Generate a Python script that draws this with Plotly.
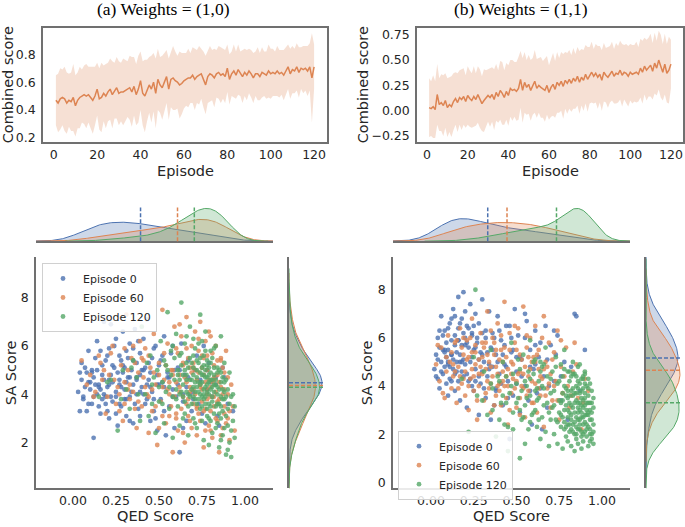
import numpy as np
import plotly.graph_objects as go

W, H = 685, 527


def px(x):
    return x / W


def py(y):
    return 1 - y / H


# ---------------- data: line panels ----------------
EPISODES = list(range(1, 121))

MEAN_A = [0.47, 0.45, 0.48, 0.49, 0.48, 0.45, 0.47, 0.46, 0.49, 0.43,
          0.47, 0.49, 0.50, 0.51, 0.50, 0.51, 0.49, 0.47, 0.50, 0.55,
          0.48, 0.49, 0.52, 0.50, 0.53, 0.55, 0.51, 0.54, 0.56, 0.52,
          0.53, 0.53, 0.54, 0.55, 0.56, 0.53, 0.57, 0.51, 0.55, 0.61,
          0.52, 0.50, 0.54, 0.58, 0.55, 0.60, 0.52, 0.62, 0.58, 0.56,
          0.60, 0.64, 0.55, 0.62, 0.63, 0.61, 0.60, 0.58, 0.59, 0.61,
          0.62, 0.63, 0.63, 0.65, 0.62, 0.64, 0.65, 0.66, 0.62, 0.58,
          0.64, 0.66, 0.65, 0.63, 0.66, 0.67, 0.65, 0.66, 0.64, 0.70,
          0.62, 0.66, 0.68, 0.65, 0.69, 0.66, 0.64, 0.67, 0.65, 0.68,
          0.66, 0.63, 0.66, 0.66, 0.64, 0.67, 0.66, 0.65, 0.68, 0.66,
          0.67, 0.66, 0.68, 0.66, 0.67, 0.65, 0.68, 0.71, 0.66, 0.69,
          0.68, 0.71, 0.67, 0.70, 0.69, 0.70, 0.68, 0.71, 0.63, 0.71]
SD_A = [0.18, 0.21, 0.22, 0.20, 0.23, 0.22, 0.19, 0.21, 0.24, 0.22,
        0.20, 0.22, 0.19, 0.21, 0.23, 0.20, 0.22, 0.24, 0.21, 0.19,
        0.22, 0.25, 0.20, 0.23, 0.21, 0.22, 0.24, 0.20, 0.22, 0.23,
        0.21, 0.24, 0.22, 0.20, 0.23, 0.25, 0.21, 0.22, 0.24, 0.21,
        0.23, 0.26, 0.22, 0.20, 0.24, 0.21, 0.25, 0.22, 0.20, 0.23,
        0.21, 0.19, 0.22, 0.20, 0.23, 0.21, 0.19, 0.24, 0.22, 0.20,
        0.19, 0.21, 0.18, 0.20, 0.22, 0.19, 0.21, 0.18, 0.20, 0.21,
        0.19, 0.20, 0.18, 0.21, 0.17, 0.19, 0.20, 0.18, 0.19, 0.17,
        0.18, 0.16, 0.19, 0.17, 0.18, 0.16, 0.19, 0.17, 0.18, 0.16,
        0.17, 0.18, 0.16, 0.19, 0.17, 0.18, 0.16, 0.17, 0.19, 0.18,
        0.17, 0.16, 0.18, 0.17, 0.16, 0.18, 0.17, 0.16, 0.18, 0.17,
        0.16, 0.17, 0.18, 0.15, 0.17, 0.16, 0.18, 0.17, 0.32, 0.16]

MEAN_B = [0.03, 0.02, 0.04, 0.01, 0.16, 0.06, 0.08, 0.05, 0.10, 0.03,
          0.06, 0.04, 0.09, 0.12, 0.08, 0.13, 0.11, 0.14, 0.09, 0.15,
          0.12, 0.10, 0.14, 0.11, 0.16, 0.12, 0.07, 0.10, 0.12, 0.15,
          0.13, 0.16, 0.11, 0.18, 0.14, 0.20, 0.17, 0.13, 0.19, 0.15,
          0.22, 0.20, 0.21, 0.19, 0.22, 0.31, 0.20, 0.28, 0.23, 0.26,
          0.20, 0.24, 0.29, 0.22, 0.25, 0.23, 0.21, 0.20, 0.25, 0.18,
          0.23, 0.26, 0.21, 0.28, 0.25, 0.29, 0.24, 0.30, 0.27, 0.31,
          0.27, 0.32, 0.29, 0.34, 0.28, 0.33, 0.30, 0.36, 0.31, 0.35,
          0.38, 0.34, 0.37, 0.33, 0.36, 0.30, 0.38, 0.35, 0.33, 0.36,
          0.39, 0.34, 0.37, 0.36, 0.40, 0.35, 0.38, 0.37, 0.34, 0.38,
          0.36, 0.37, 0.38, 0.36, 0.42, 0.38, 0.44, 0.40, 0.43, 0.45,
          0.39, 0.47, 0.42, 0.50, 0.44, 0.38, 0.46, 0.37, 0.40, 0.46]
SD_B = [0.29, 0.27, 0.31, 0.28, 0.30, 0.26, 0.28, 0.30, 0.27, 0.29,
        0.27, 0.30, 0.28, 0.26, 0.29, 0.27, 0.30, 0.28, 0.26, 0.29,
        0.28, 0.27, 0.30, 0.26, 0.28, 0.29, 0.27, 0.31, 0.28, 0.26,
        0.29, 0.27, 0.30, 0.28, 0.26, 0.29, 0.31, 0.27, 0.28, 0.30,
        0.28, 0.30, 0.27, 0.29, 0.31, 0.28, 0.32, 0.30, 0.27, 0.29,
        0.30, 0.28, 0.31, 0.29, 0.27, 0.30, 0.28, 0.31, 0.29, 0.27,
        0.29, 0.31, 0.28, 0.30, 0.27, 0.29, 0.32, 0.28, 0.30, 0.29,
        0.28, 0.30, 0.27, 0.29, 0.31, 0.28, 0.30, 0.29, 0.32, 0.28,
        0.30, 0.27, 0.29, 0.31, 0.28, 0.30, 0.29, 0.27, 0.30, 0.28,
        0.29, 0.27, 0.30, 0.28, 0.29, 0.31, 0.27, 0.29, 0.30, 0.28,
        0.29, 0.28, 0.30, 0.27, 0.29, 0.31, 0.28, 0.30, 0.29, 0.31,
        0.28, 0.30, 0.27, 0.29, 0.31, 0.28, 0.30, 0.29, 0.33, 0.24]

# ---------------- data: scatter panels (QED, SA) ----------------
A_EP0 = [(0.03, 4.1), (0.04, 3.3), (0.05, 4.6), (0.05, 5.3), (0.06, 3.8), (0.07, 4.3), (0.08, 4.9), (0.08, 3.3), (0.09, 5.8), (0.09, 4.5),
         (0.10, 4.2), (0.11, 5.0), (0.11, 3.6), (0.12, 4.7), (0.12, 2.2), (0.13, 5.5), (0.14, 4.0), (0.14, 6.2), (0.15, 4.4), (0.16, 3.2),
         (0.17, 5.2), (0.18, 4.6), (0.18, 7.0), (0.19, 3.9), (0.20, 5.6), (0.20, 4.3), (0.21, 3.0), (0.22, 6.9), (0.22, 4.8), (0.23, 3.7),
         (0.24, 5.1), (0.25, 4.1), (0.25, 6.3), (0.26, 2.7), (0.27, 4.6), (0.28, 5.4), (0.28, 3.5), (0.29, 4.9), (0.29, 6.6), (0.30, 4.2),
         (0.31, 5.8), (0.31, 3.1), (0.32, 4.7), (0.33, 6.1), (0.33, 3.9), (0.34, 5.0), (0.35, 2.8), (0.35, 4.4), (0.36, 6.7), (0.37, 4.0),
         (0.37, 5.3), (0.38, 3.4), (0.39, 4.8), (0.39, 5.7), (0.40, 4.3), (0.41, 6.3), (0.42, 3.6), (0.42, 5.1), (0.43, 7.1), (0.44, 4.6),
         (0.45, 2.9), (0.46, 5.5), (0.46, 4.1), (0.47, 3.3), (0.48, 6.0), (0.49, 4.8), (0.49, 2.5), (0.50, 5.2), (0.51, 3.8), (0.52, 4.5),
         (0.53, 6.4), (0.54, 2.3), (0.55, 4.9), (0.56, 3.5), (0.57, 5.7), (0.58, 4.2), (0.59, 2.6), (0.59, 5.0), (0.61, 4.4), (0.62, 1.6),
         (0.63, 6.1), (0.64, 3.7), (0.65, 4.8), (0.66, 2.9), (0.67, 5.4), (0.68, 4.0), (0.69, 3.3), (0.71, 5.0), (0.73, 3.6), (0.74, 4.5),
         (0.76, 6.0), (0.77, 2.8), (0.78, 4.2), (0.79, 5.3), (0.81, 3.9), (0.83, 4.7), (0.85, 2.7), (0.87, 5.1), (0.90, 3.6), (0.93, 3.3),
         (0.04, 4.9), (0.06, 3.9), (0.07, 5.1), (0.09, 3.6), (0.10, 4.5), (0.11, 4.9), (0.12, 3.9), (0.13, 4.4), (0.14, 5.0), (0.15, 3.5),
         (0.16, 4.2), (0.16, 5.8), (0.17, 3.8), (0.18, 4.0), (0.19, 5.4), (0.20, 3.3), (0.21, 4.6), (0.21, 5.9), (0.22, 3.9), (0.23, 4.5),
         (0.24, 6.0), (0.25, 3.2), (0.26, 4.9), (0.27, 5.6), (0.27, 3.6), (0.28, 4.3), (0.30, 5.1), (0.30, 3.8), (0.31, 4.5), (0.32, 5.5),
         (0.33, 2.9), (0.34, 4.1), (0.35, 5.9), (0.36, 3.6), (0.37, 4.7), (0.38, 6.2), (0.39, 3.1), (0.40, 5.0), (0.41, 4.0), (0.43, 3.8),
         (0.44, 5.3), (0.45, 4.3), (0.47, 5.9), (0.48, 3.0), (0.50, 4.4), (0.52, 5.6), (0.53, 3.3), (0.56, 4.7), (0.58, 6.0), (0.60, 3.9),
         (0.62, 5.0), (0.64, 2.6), (0.66, 4.3), (0.70, 3.8), (0.72, 5.6), (0.75, 3.2), (0.80, 4.5), (0.84, 3.1),
         (0.15, 4.3), (0.17, 4.8), (0.19, 3.6), (0.21, 4.4), (0.23, 5.2), (0.25, 3.9), (0.27, 4.4), (0.29, 5.2), (0.31, 3.8), (0.33, 4.7),
         (0.35, 5.4), (0.37, 4.6), (0.39, 4.1), (0.41, 5.0), (0.43, 4.4), (0.45, 4.9), (0.47, 3.8), (0.49, 4.4), (0.51, 5.4), (0.53, 4.3),
         (0.55, 4.7), (0.58, 3.9), (0.61, 5.1), (0.64, 4.0), (0.67, 4.7), (0.70, 4.1), (0.74, 4.6), (0.78, 5.0), (0.83, 4.4), (0.88, 4.7)]

A_EP60 = [(0.05, 5.4), (0.08, 4.4), (0.12, 3.9), (0.15, 5.6), (0.17, 4.6), (0.19, 3.2), (0.21, 4.8), (0.23, 6.0), (0.25, 3.6), (0.26, 4.3),
          (0.28, 5.2), (0.29, 2.9), (0.30, 4.5), (0.31, 7.3), (0.33, 3.8), (0.34, 5.5), (0.35, 4.1), (0.37, 2.6), (0.38, 4.9), (0.39, 6.2),
          (0.40, 3.5), (0.41, 4.7), (0.42, 5.9), (0.43, 4.0), (0.44, 2.4), (0.45, 5.1), (0.46, 3.3), (0.47, 6.5), (0.48, 4.4), (0.49, 1.9),
          (0.50, 5.3), (0.51, 3.7), (0.52, 7.5), (0.53, 4.6), (0.54, 2.8), (0.55, 6.1), (0.55, 4.2), (0.56, 3.1), (0.57, 5.0), (0.58, 1.6),
          (0.58, 4.8), (0.59, 6.8), (0.59, 3.9), (0.60, 4.5), (0.61, 5.7), (0.61, 2.5), (0.62, 4.1), (0.63, 6.4), (0.63, 3.4), (0.64, 5.2),
          (0.65, 4.7), (0.65, 2.0), (0.66, 7.2), (0.67, 3.8), (0.67, 5.5), (0.68, 4.3), (0.68, 2.9), (0.69, 6.0), (0.69, 4.9), (0.70, 3.6),
          (0.70, 5.3), (0.71, 4.0), (0.71, 6.6), (0.72, 2.3), (0.72, 4.6), (0.73, 5.8), (0.73, 3.2), (0.74, 4.4), (0.74, 7.0), (0.75, 3.7),
          (0.75, 5.1), (0.76, 1.8), (0.76, 4.8), (0.77, 6.2), (0.77, 3.4), (0.78, 4.2), (0.78, 5.6), (0.79, 2.7), (0.79, 4.6), (0.80, 3.9),
          (0.80, 6.4), (0.81, 4.5), (0.81, 2.2), (0.82, 5.2), (0.82, 3.5), (0.83, 4.1), (0.83, 6.0), (0.84, 2.9), (0.84, 4.8), (0.85, 1.6),
          (0.85, 3.8), (0.86, 5.5), (0.86, 4.3), (0.87, 2.6), (0.88, 4.9), (0.88, 3.2), (0.89, 5.8), (0.90, 4.0), (0.91, 2.1), (0.93, 3.5),
          (0.18, 5.0), (0.27, 4.0), (0.32, 5.0), (0.36, 3.4), (0.41, 5.4), (0.44, 3.9), (0.47, 4.9), (0.50, 2.6), (0.52, 4.3), (0.53, 5.7),
          (0.56, 4.5), (0.57, 3.5), (0.60, 5.9), (0.60, 3.2), (0.62, 4.8), (0.62, 6.9), (0.64, 3.9), (0.64, 2.4), (0.66, 4.5), (0.66, 5.9),
          (0.67, 3.1), (0.68, 5.1), (0.69, 2.6), (0.70, 4.2), (0.71, 5.0), (0.72, 3.5), (0.73, 4.9), (0.73, 6.3), (0.74, 2.9), (0.75, 4.2),
          (0.75, 5.6), (0.76, 3.3), (0.77, 4.5), (0.77, 2.5), (0.78, 5.0), (0.78, 3.8), (0.79, 6.6), (0.80, 4.3), (0.80, 2.5), (0.81, 5.7),
          (0.82, 3.9), (0.82, 4.6), (0.83, 3.0), (0.84, 5.4), (0.84, 3.7), (0.85, 4.5), (0.86, 2.3), (0.87, 4.0), (0.87, 5.1), (0.88, 3.5),
          (0.89, 2.8), (0.90, 4.7), (0.91, 3.3), (0.92, 4.4), (0.94, 2.5),
          (0.30, 3.6), (0.33, 4.4), (0.36, 5.3), (0.38, 3.7), (0.40, 5.5), (0.42, 4.3), (0.44, 5.6), (0.46, 4.2), (0.48, 3.5), (0.50, 4.8),
          (0.52, 3.1), (0.54, 5.2), (0.56, 4.0), (0.58, 5.0), (0.60, 3.0), (0.62, 4.3), (0.64, 5.3), (0.66, 3.6), (0.68, 4.1), (0.70, 5.1),
          (0.72, 3.4), (0.74, 4.3), (0.76, 5.5), (0.78, 4.0), (0.80, 3.3), (0.82, 4.7), (0.84, 3.6), (0.86, 5.4), (0.88, 4.2), (0.90, 3.0),
          (0.10, 4.8), (0.13, 4.1), (0.16, 5.3), (0.20, 3.9), (0.22, 5.7), (0.24, 4.6), (0.27, 3.3), (0.30, 5.9), (0.32, 4.2), (0.35, 6.0)]

A_EP120 = [(0.15, 3.9), (0.22, 4.6), (0.26, 2.5), (0.29, 5.0), (0.31, 4.2), (0.33, 3.4), (0.35, 5.4), (0.37, 4.7), (0.39, 2.9), (0.40, 6.8),
           (0.42, 4.0), (0.44, 3.1), (0.45, 5.6), (0.46, 4.4), (0.48, 2.4), (0.49, 5.0), (0.50, 3.7), (0.51, 6.2), (0.52, 4.5), (0.53, 2.8),
           (0.54, 5.2), (0.54, 4.1), (0.55, 7.4), (0.56, 3.4), (0.57, 4.8), (0.57, 5.8), (0.58, 3.9), (0.58, 2.2), (0.59, 4.6), (0.59, 5.5),
           (0.60, 4.2), (0.60, 6.5), (0.61, 3.5), (0.61, 5.0), (0.62, 4.6), (0.62, 2.7), (0.63, 7.8), (0.63, 5.7), (0.64, 3.9), (0.64, 4.4),
           (0.65, 6.1), (0.65, 3.2), (0.66, 5.3), (0.66, 4.8), (0.67, 2.3), (0.67, 4.0), (0.68, 6.8), (0.68, 5.5), (0.69, 3.6), (0.69, 4.6),
           (0.70, 5.1), (0.70, 3.0), (0.70, 6.3), (0.70, 4.3), (0.71, 5.9), (0.71, 3.8), (0.72, 4.7), (0.72, 2.6), (0.73, 5.3), (0.73, 4.1),
           (0.74, 7.3), (0.74, 3.4), (0.74, 4.9), (0.75, 6.2), (0.75, 3.9), (0.75, 4.5), (0.76, 2.1), (0.76, 5.6), (0.76, 4.2), (0.77, 3.6),
           (0.77, 5.0), (0.77, 6.6), (0.78, 4.4), (0.78, 3.1), (0.78, 5.4), (0.79, 4.0), (0.79, 1.9), (0.79, 4.8), (0.80, 5.8), (0.80, 3.5),
           (0.80, 4.6), (0.80, 2.9), (0.81, 4.3), (0.81, 5.5), (0.82, 3.2), (0.82, 4.8), (0.83, 6.0), (0.83, 2.6), (0.84, 4.0), (0.84, 5.1),
           (0.85, 3.6), (0.85, 1.8), (0.86, 4.5), (0.86, 6.4), (0.86, 3.0), (0.87, 4.2), (0.87, 2.3), (0.88, 5.3), (0.88, 3.8), (0.89, 1.5),
           (0.89, 4.6), (0.90, 2.7), (0.90, 3.4), (0.91, 4.9), (0.91, 2.0), (0.92, 3.9), (0.92, 1.4), (0.93, 2.9), (0.94, 3.5), (0.94, 2.2),
           (0.47, 4.7), (0.52, 3.6), (0.55, 5.0), (0.56, 4.3), (0.58, 6.0), (0.60, 3.8), (0.61, 4.8), (0.62, 5.6), (0.63, 4.1), (0.64, 3.0),
           (0.65, 5.0), (0.66, 4.1), (0.66, 6.4), (0.67, 3.5), (0.68, 4.6), (0.69, 5.3), (0.70, 3.9), (0.71, 4.5), (0.71, 2.8), (0.72, 5.4),
           (0.72, 3.6), (0.73, 4.5), (0.73, 6.1), (0.74, 4.0), (0.75, 5.1), (0.75, 2.9), (0.76, 3.8), (0.76, 4.8), (0.77, 4.3), (0.77, 5.8),
           (0.78, 3.4), (0.78, 4.7), (0.79, 5.1), (0.79, 3.0), (0.80, 4.2), (0.80, 5.3), (0.81, 3.7), (0.81, 2.4), (0.82, 4.4), (0.82, 5.9),
           (0.83, 3.5), (0.83, 4.6), (0.84, 2.8), (0.84, 4.3), (0.85, 5.0), (0.85, 3.2), (0.86, 3.9), (0.86, 2.1), (0.87, 4.7), (0.87, 3.3),
           (0.88, 2.6), (0.88, 4.1), (0.89, 3.1), (0.90, 4.2), (0.90, 1.7), (0.91, 3.6), (0.92, 2.5), (0.93, 4.0),
           (0.62, 4.0), (0.63, 5.2), (0.64, 4.8), (0.65, 3.7), (0.66, 4.6), (0.67, 5.1), (0.68, 3.9), (0.69, 4.2), (0.70, 5.6), (0.70, 4.8),
           (0.71, 4.1), (0.72, 4.3), (0.72, 5.0), (0.73, 3.8), (0.74, 5.5), (0.74, 4.4), (0.75, 3.5), (0.75, 4.8), (0.76, 5.2), (0.76, 4.0),
           (0.77, 4.7), (0.77, 3.9), (0.78, 5.2), (0.78, 4.1), (0.79, 4.5), (0.79, 3.6), (0.80, 4.9), (0.81, 4.6), (0.81, 3.9), (0.82, 5.1),
           (0.82, 4.1), (0.83, 4.4), (0.84, 3.6), (0.84, 4.9), (0.85, 4.2), (0.86, 4.9), (0.86, 3.5), (0.87, 3.8), (0.88, 4.5), (0.89, 3.9),
           (0.20, 4.5), (0.28, 3.8), (0.34, 5.1), (0.38, 4.0), (0.43, 5.3), (0.46, 3.6), (0.50, 4.3), (0.53, 5.4)]

B_EP0 = [(0.02, 4.7), (0.03, 5.3), (0.04, 6.0), (0.04, 4.3), (0.05, 5.6), (0.05, 3.9), (0.06, 6.9), (0.06, 5.0), (0.07, 4.5), (0.08, 5.4),
         (0.08, 6.3), (0.09, 4.1), (0.09, 5.2), (0.10, 3.6), (0.10, 5.5), (0.11, 6.6), (0.11, 4.8), (0.12, 5.9), (0.12, 4.2), (0.13, 7.2),
         (0.13, 5.1), (0.14, 3.8), (0.14, 6.1), (0.15, 5.4), (0.15, 4.6), (0.16, 7.7), (0.16, 6.4), (0.17, 5.0), (0.17, 3.4), (0.18, 6.8),
         (0.18, 5.7), (0.19, 4.4), (0.19, 7.9), (0.20, 6.0), (0.20, 4.9), (0.21, 6.5), (0.21, 3.1), (0.22, 5.6), (0.23, 7.4), (0.23, 4.3),
         (0.24, 6.2), (0.24, 5.2), (0.25, 3.8), (0.26, 7.0), (0.26, 4.7), (0.27, 5.8), (0.28, 2.8), (0.28, 6.6), (0.29, 4.1), (0.29, 5.4),
         (0.30, 7.6), (0.31, 5.0), (0.32, 3.5), (0.32, 6.3), (0.33, 4.4), (0.34, 7.1), (0.35, 5.6), (0.35, 2.6), (0.36, 4.8), (0.37, 6.0),
         (0.38, 3.9), (0.38, 5.3), (0.39, 6.9), (0.40, 4.5), (0.41, 5.9), (0.42, 3.2), (0.43, 4.9), (0.44, 6.5), (0.45, 4.2), (0.46, 1.8),
         (0.47, 5.4), (0.48, 3.6), (0.49, 7.2), (0.50, 4.6), (0.51, 6.1), (0.52, 2.9), (0.53, 5.1), (0.55, 4.0), (0.56, 6.7), (0.57, 3.4),
         (0.58, 5.5), (0.59, 2.4), (0.60, 4.7), (0.61, 6.3), (0.62, 3.7), (0.63, 5.2), (0.65, 2.2), (0.66, 4.4), (0.67, 6.5), (0.68, 3.1),
         (0.70, 5.7), (0.72, 4.2), (0.74, 6.1), (0.76, 3.4), (0.78, 5.0), (0.80, 2.6), (0.82, 4.8), (0.84, 7.0), (0.87, 3.8), (0.90, 5.5),
         (0.03, 4.4), (0.04, 5.1), (0.05, 6.3), (0.06, 4.6), (0.07, 5.5), (0.07, 6.1), (0.08, 4.8), (0.09, 5.8), (0.10, 5.0), (0.10, 6.4),
         (0.11, 4.3), (0.12, 5.3), (0.12, 6.8), (0.13, 4.7), (0.14, 5.7), (0.14, 6.9), (0.15, 5.0), (0.16, 5.9), (0.16, 4.2), (0.17, 6.6),
         (0.17, 5.3), (0.18, 4.6), (0.19, 6.2), (0.19, 5.1), (0.20, 7.1), (0.21, 5.8), (0.21, 4.5), (0.22, 6.4), (0.23, 5.0), (0.24, 4.0),
         (0.25, 6.5), (0.25, 5.5), (0.26, 4.2), (0.27, 6.0), (0.28, 5.1), (0.30, 4.6), (0.30, 6.2), (0.31, 3.9), (0.33, 5.4), (0.34, 4.9),
         (0.36, 6.2), (0.37, 3.2), (0.39, 5.0), (0.41, 4.1), (0.43, 5.7), (0.45, 3.5), (0.47, 6.0), (0.50, 5.2), (0.53, 4.4), (0.55, 6.0),
         (0.58, 3.8), (0.61, 4.9), (0.64, 5.8), (0.69, 4.0), (0.73, 5.3), (0.85, 6.9),
         (0.08, 5.5), (0.10, 4.9), (0.12, 5.3), (0.14, 4.5), (0.16, 5.9), (0.18, 5.0), (0.20, 5.7), (0.22, 4.2), (0.24, 6.1), (0.26, 5.6),
         (0.28, 4.4), (0.30, 5.3), (0.32, 6.0), (0.34, 4.7), (0.36, 5.5), (0.38, 3.8), (0.40, 6.3), (0.42, 5.3), (0.44, 4.8), (0.46, 6.5),
         (0.48, 5.5), (0.50, 4.1), (0.52, 5.2), (0.55, 7.0), (0.58, 4.8), (0.61, 5.7), (0.64, 3.9), (0.68, 5.1), (0.72, 6.3), (0.76, 4.4)]

B_EP60 = [(0.03, 4.9), (0.05, 4.2), (0.06, 5.6), (0.07, 3.7), (0.09, 4.6), (0.10, 6.1), (0.11, 5.0), (0.12, 3.9), (0.13, 4.4), (0.14, 5.8),
          (0.15, 3.3), (0.16, 4.8), (0.17, 6.4), (0.18, 4.1), (0.19, 5.3), (0.20, 3.6), (0.20, 4.6), (0.21, 5.9), (0.22, 3.0), (0.23, 4.3),
          (0.24, 5.4), (0.24, 6.8), (0.25, 3.8), (0.26, 4.9), (0.27, 2.6), (0.28, 5.1), (0.28, 4.0), (0.29, 6.2), (0.30, 4.5), (0.31, 3.4),
          (0.31, 5.6), (0.32, 4.7), (0.33, 7.1), (0.34, 3.9), (0.34, 5.0), (0.35, 2.9), (0.36, 4.4), (0.36, 6.0), (0.37, 5.3), (0.38, 3.6),
          (0.38, 4.8), (0.39, 6.6), (0.40, 4.1), (0.41, 5.5), (0.41, 3.2), (0.42, 4.6), (0.43, 7.5), (0.43, 4.0), (0.44, 5.2), (0.45, 2.4),
          (0.45, 4.7), (0.46, 6.2), (0.47, 3.7), (0.47, 5.0), (0.48, 4.3), (0.49, 5.8), (0.50, 3.1), (0.51, 4.5), (0.51, 6.4), (0.52, 3.5),
          (0.53, 5.1), (0.53, 4.0), (0.54, 7.3), (0.55, 2.7), (0.55, 4.8), (0.56, 5.6), (0.57, 3.8), (0.57, 4.4), (0.58, 6.0), (0.59, 3.3),
          (0.60, 5.2), (0.61, 4.1), (0.61, 6.5), (0.62, 2.9), (0.63, 4.7), (0.63, 5.5), (0.64, 3.6), (0.65, 4.3), (0.66, 6.9), (0.66, 2.3),
          (0.67, 5.0), (0.68, 3.9), (0.69, 5.8), (0.70, 4.5), (0.71, 3.4), (0.72, 5.4), (0.73, 4.2), (0.74, 6.3), (0.75, 2.6), (0.76, 4.8),
          (0.77, 3.7), (0.79, 5.6), (0.80, 4.0), (0.81, 3.1), (0.83, 4.6), (0.84, 5.8), (0.86, 3.5), (0.88, 2.2), (0.90, 4.3), (0.92, 3.8),
          (0.04, 5.7), (0.08, 3.5), (0.12, 5.4), (0.14, 4.6), (0.16, 3.9), (0.18, 5.6), (0.19, 4.3), (0.21, 5.1), (0.22, 4.0), (0.23, 6.0),
          (0.25, 4.4), (0.26, 5.7), (0.27, 3.4), (0.29, 4.8), (0.30, 5.8), (0.32, 3.7), (0.33, 5.3), (0.35, 4.1), (0.35, 6.3), (0.37, 3.2),
          (0.38, 5.5), (0.39, 4.5), (0.40, 3.8), (0.41, 6.1), (0.42, 5.0), (0.44, 3.5), (0.44, 4.4), (0.46, 5.5), (0.46, 3.0), (0.48, 4.9),
          (0.49, 6.5), (0.50, 4.2), (0.52, 5.3), (0.52, 2.8), (0.54, 4.5), (0.56, 3.6), (0.56, 6.1), (0.58, 4.7), (0.59, 5.0), (0.60, 3.3),
          (0.62, 5.3), (0.64, 4.4), (0.65, 6.0), (0.67, 3.6), (0.68, 4.8), (0.70, 3.1), (0.71, 5.1), (0.72, 4.0), (0.74, 3.4), (0.76, 5.9),
          (0.78, 4.4), (0.82, 3.6), (0.85, 4.9), (0.89, 3.3),
          (0.09, 5.2), (0.13, 4.9), (0.15, 5.9), (0.17, 4.4), (0.19, 6.0), (0.22, 5.2), (0.24, 4.7), (0.26, 5.4), (0.28, 4.5), (0.30, 5.2),
          (0.32, 5.8), (0.33, 4.2), (0.35, 4.8), (0.37, 5.8), (0.39, 4.0), (0.40, 5.1), (0.42, 4.2), (0.43, 5.6), (0.45, 4.0), (0.47, 4.5),
          (0.49, 3.9), (0.50, 5.5), (0.52, 4.6), (0.54, 3.9), (0.57, 5.2), (0.59, 4.2), (0.61, 5.0), (0.63, 3.9), (0.66, 4.7), (0.69, 4.1)]

B_EP120 = [(0.18, 4.3), (0.22, 2.1), (0.25, 5.2), (0.26, 8.0), (0.27, 3.6), (0.31, 4.6), (0.33, 2.8), (0.35, 5.5), (0.36, 3.9), (0.38, 1.9),
           (0.40, 4.2), (0.41, 3.3), (0.42, 5.0), (0.43, 2.4), (0.44, 4.4), (0.45, 1.3), (0.46, 3.7), (0.47, 5.8), (0.48, 2.9), (0.50, 4.1),
           (0.51, 3.5), (0.52, 1.0), (0.52, 4.7), (0.53, 2.6), (0.54, 5.3), (0.55, 3.2), (0.55, 1.6), (0.56, 4.0), (0.57, 2.2), (0.58, 5.9),
           (0.58, 3.6), (0.59, 2.8), (0.60, 4.5), (0.61, 3.0), (0.61, 5.1), (0.62, 2.3), (0.63, 4.2), (0.63, 3.5), (0.64, 1.8), (0.65, 4.8),
           (0.65, 2.7), (0.66, 3.9), (0.67, 5.6), (0.67, 2.1), (0.68, 3.3), (0.68, 4.4), (0.69, 1.5), (0.70, 3.7), (0.70, 2.6), (0.71, 4.6),
           (0.71, 3.1), (0.72, 2.0), (0.72, 3.8), (0.73, 5.2), (0.73, 2.6), (0.74, 4.1), (0.74, 1.6), (0.75, 3.4), (0.75, 2.9), (0.76, 4.9),
           (0.76, 2.3), (0.77, 3.7), (0.77, 1.4), (0.77, 4.4), (0.78, 3.0), (0.78, 2.5), (0.78, 5.5), (0.79, 3.9), (0.79, 1.9), (0.79, 3.2),
           (0.80, 4.6), (0.80, 2.7), (0.80, 3.5), (0.80, 1.7), (0.81, 4.2), (0.81, 2.4), (0.81, 3.3), (0.82, 1.5), (0.82, 3.8), (0.82, 2.8),
           (0.83, 5.0), (0.83, 2.1), (0.83, 3.6), (0.84, 4.5), (0.84, 1.3), (0.84, 2.9), (0.85, 3.4), (0.85, 2.3), (0.85, 4.0), (0.85, 1.8),
           (0.86, 3.1), (0.86, 2.6), (0.86, 4.8), (0.86, 1.6), (0.87, 3.7), (0.87, 2.2), (0.87, 3.0), (0.88, 4.3), (0.88, 1.4), (0.88, 2.7),
           (0.88, 3.5), (0.89, 2.0), (0.89, 3.9), (0.89, 1.7), (0.90, 3.2), (0.90, 2.5), (0.90, 4.6), (0.91, 1.9), (0.91, 3.0), (0.91, 2.4),
           (0.92, 3.6), (0.92, 1.5), (0.92, 2.8), (0.93, 4.1), (0.93, 2.2), (0.93, 3.3), (0.94, 1.8), (0.94, 2.9), (0.95, 2.4), (0.95, 3.5),
           (0.48, 2.2), (0.53, 3.8), (0.57, 4.6), (0.60, 5.0), (0.62, 3.9), (0.64, 4.6), (0.66, 4.9), (0.69, 2.9), (0.70, 4.3), (0.72, 3.2),
           (0.73, 4.8), (0.74, 2.5), (0.75, 4.2), (0.76, 3.3), (0.77, 2.7), (0.78, 4.0), (0.78, 4.7), (0.79, 2.3), (0.80, 3.8), (0.81, 4.6),
           (0.81, 2.9), (0.82, 4.4), (0.82, 2.2), (0.83, 3.1), (0.83, 4.5), (0.84, 3.7), (0.84, 2.5), (0.85, 4.4), (0.85, 2.0), (0.86, 3.3),
           (0.86, 2.2), (0.87, 4.9), (0.87, 4.1), (0.87, 2.6), (0.88, 3.2), (0.88, 1.9), (0.89, 2.7), (0.89, 4.3), (0.89, 3.4), (0.90, 2.1),
           (0.90, 3.7), (0.90, 4.5), (0.91, 2.8), (0.91, 4.0), (0.92, 2.3), (0.92, 3.3), (0.93, 1.7), (0.93, 2.6), (0.94, 3.8), (0.94, 2.0),
           (0.95, 3.1), (0.95, 1.6),
           (0.76, 2.8), (0.77, 3.4), (0.78, 2.2), (0.79, 3.6), (0.80, 2.4), (0.80, 3.0), (0.81, 3.6), (0.81, 2.1), (0.82, 3.2), (0.82, 2.6),
           (0.83, 2.4), (0.83, 3.9), (0.84, 3.3), (0.84, 2.0), (0.85, 2.7), (0.85, 3.7), (0.86, 2.9), (0.86, 4.2), (0.86, 3.9), (0.87, 2.4),
           (0.87, 3.3), (0.88, 2.1), (0.88, 3.8), (0.88, 2.9), (0.89, 2.4), (0.89, 3.1), (0.89, 4.4), (0.90, 2.8), (0.90, 3.5), (0.90, 4.1),
           (0.91, 3.3), (0.91, 2.2), (0.92, 2.9), (0.92, 4.3), (0.92, 3.9), (0.93, 3.0), (0.93, 2.0), (0.94, 2.6), (0.94, 3.3), (0.95, 2.1),
           (0.30, 3.4), (0.35, 4.1), (0.40, 2.6), (0.44, 3.3), (0.48, 4.5), (0.52, 3.0), (0.55, 4.2), (0.58, 2.5), (0.62, 3.4), (0.65, 4.0),
           (0.36, 3.0), (0.39, 4.4), (0.42, 3.6), (0.45, 2.3), (0.47, 4.0), (0.50, 3.3), (0.51, 5.1), (0.54, 2.7), (0.56, 3.5), (0.58, 4.3),
           (0.60, 2.9), (0.61, 3.8), (0.63, 2.6), (0.64, 5.0), (0.66, 3.2)]

SERIES_NAMES = ["Episode 0", "Episode 60", "Episode 120"]
PANEL_TITLES = ["(a) Weights = (1,0)", "(b) Weights = (1,1)"]

# ---------------- style ----------------
COLORS = ["#4c72b0", "#dd8452", "#55a868"]
RGB = [(76, 114, 176), (221, 132, 82), (85, 168, 104)]
TXT = "#262626"
SPINE = "#707070"
TICKF = dict(family="DejaVu Sans", size=12.5, color=TXT)
LABF = dict(family="DejaVu Sans", size=14.5, color=TXT)
BW_ADJUST = 1.2


def kde(vals):
    v = np.asarray(vals, float)
    n = len(v)
    bw = BW_ADJUST * v.std(ddof=1) * n ** (-0.2)
    grid = np.linspace(v.min() - 3 * bw, v.max() + 3 * bw, 300)
    d = np.exp(-0.5 * ((grid[:, None] - v[None, :]) / bw) ** 2).sum(1) / (n * bw * np.sqrt(2 * np.pi))
    return grid, d


fig = go.Figure()
shapes = []
annotations = []

# ---- line panels ----
line_axes = [("x", "y", MEAN_A, SD_A), ("x2", "y2", MEAN_B, SD_B)]
for xa, ya, mean, sd in line_axes:
    m = np.array(mean)
    s = np.array(sd)
    fig.add_trace(go.Scatter(x=EPISODES, y=m - s, mode="lines", line=dict(width=0),
                             xaxis=xa, yaxis=ya, showlegend=False, hoverinfo="skip"))
    fig.add_trace(go.Scatter(x=EPISODES, y=m + s, mode="lines", line=dict(width=0),
                             fill="tonexty", fillcolor="rgba(221,132,82,0.25)",
                             xaxis=xa, yaxis=ya, showlegend=False, hoverinfo="skip"))
    fig.add_trace(go.Scatter(x=EPISODES, y=mean, mode="lines",
                             line=dict(color=COLORS[1], width=1.5),
                             xaxis=xa, yaxis=ya, showlegend=False))

# ---- joint panels ----
panels = [
    dict(data=[A_EP0, A_EP60, A_EP120], main=("x3", "y3"), top=("x4", "y4"), right=("x5", "y5"), legend="legend"),
    dict(data=[B_EP0, B_EP60, B_EP120], main=("x6", "y6"), top=("x7", "y7"), right=("x8", "y8"), legend="legend2"),
]
kde_max = []
for p in panels:
    mx, my = p["main"]
    tx, ty = p["top"]
    rx, ry = p["right"]
    topmax = 0
    rightmax = 0
    for i, pts in enumerate(p["data"]):
        q = [a for a, b in pts]
        s = [b for a, b in pts]
        fig.add_trace(go.Scatter(x=q, y=s, mode="markers", name=SERIES_NAMES[i],
                                 marker=dict(color=COLORS[i], size=4.8, opacity=0.8, line=dict(width=0)),
                                 xaxis=mx, yaxis=my, legend=p["legend"], showlegend=True))
        r, g, b = RGB[i]
        gx, dx = kde(q)
        fig.add_trace(go.Scatter(x=gx, y=dx, mode="lines", fill="tozeroy",
                                 fillcolor=f"rgba({r},{g},{b},0.28)", line=dict(color=COLORS[i], width=1),
                                 xaxis=tx, yaxis=ty, showlegend=False, hoverinfo="skip"))
        gy, dy = kde(s)
        fig.add_trace(go.Scatter(x=dy, y=gy, mode="lines", fill="tozerox",
                                 fillcolor=f"rgba({r},{g},{b},0.28)", line=dict(color=COLORS[i], width=1),
                                 xaxis=rx, yaxis=ry, showlegend=False, hoverinfo="skip"))
        topmax = max(topmax, dx.max())
        rightmax = max(rightmax, dy.max())
        shapes.append(dict(type="line", xref=tx, yref=f"{ty} domain", x0=np.mean(q), x1=np.mean(q), y0=0, y1=1,
                           line=dict(color=COLORS[i], width=1.5, dash="4px,2px")))
        shapes.append(dict(type="line", xref=f"{rx} domain", yref=ry, x0=0, x1=1, y0=np.mean(s), y1=np.mean(s),
                           line=dict(color=COLORS[i], width=1.5, dash="4px,2px")))
    kde_max.append((topmax, rightmax))


# ---------------- axes ----------------
def frame_axis(**kw):
    base = dict(showline=True, linecolor=SPINE, linewidth=1.5, mirror=True, showgrid=False, zeroline=False,
                ticks="", tickfont=TICKF)
    base.update(kw)
    return base


def open_axis(**kw):
    base = dict(showline=True, linecolor=SPINE, linewidth=1.5, mirror=False, showgrid=False, zeroline=False,
                ticks="", tickfont=TICKF)
    base.update(kw)
    return base


def hidden_axis(**kw):
    base = dict(showline=False, showgrid=False, zeroline=False, showticklabels=False, ticks="")
    base.update(kw)
    return base


YT = dict(ticks="outside", ticklen=3, tickcolor="rgba(0,0,0,0)")
top_y = [py(142), py(27)]
main_y = [py(491), py(258)]
marg_y = [py(242), py(208)]
qed_ticks = dict(tickvals=[0, 0.25, 0.5, 0.75, 1.0], ticktext=["0.00", "0.25", "0.50", "0.75", "1.00"])
ep_ticks = [0, 20, 40, 60, 80, 100, 120]

fig.update_layout(
    xaxis=frame_axis(domain=[px(43), px(327)], range=[-4.95, 125.95], anchor="y", tickvals=ep_ticks),
    yaxis=frame_axis(domain=top_y, range=[0.171, 0.99], anchor="x", tickvals=[0.2, 0.4, 0.6, 0.8],
                     ticktext=["0.2", "0.4", "0.6", "0.8"], **YT),
    xaxis2=frame_axis(domain=[px(417), px(683)], range=[-4.95, 125.95], anchor="y2", tickvals=ep_ticks),
    yaxis2=frame_axis(domain=top_y, range=[-0.309, 0.819], anchor="x2", tickvals=[-0.25, 0, 0.25, 0.5, 0.75],
                      ticktext=["\u22120.25", "0.00", "0.25", "0.50", "0.75"], **YT),
    xaxis3=open_axis(domain=[px(36), px(273)], range=[-0.215, 1.163], anchor="y3", **qed_ticks),
    yaxis3=open_axis(domain=main_y, range=[0.109, 9.685], anchor="x3", tickvals=[2, 4, 6, 8], **YT),
    xaxis4=open_axis(domain=[px(36), px(273)], range=[-0.215, 1.163], anchor="y4", showticklabels=False),
    yaxis4=hidden_axis(domain=marg_y, range=[0, kde_max[0][0] * 1.03], anchor="x4"),
    xaxis5=hidden_axis(domain=[px(289), px(323)], range=[0, kde_max[0][1] * 1.03], anchor="y5"),
    yaxis5=open_axis(domain=main_y, range=[0.109, 9.685], anchor="x5", showticklabels=False),
    xaxis6=open_axis(domain=[px(393), px(630)], range=[-0.222, 1.164], anchor="y6", **qed_ticks),
    yaxis6=open_axis(domain=main_y, range=[-0.247, 9.36], anchor="x6", tickvals=[0, 2, 4, 6, 8], **YT),
    xaxis7=open_axis(domain=[px(393), px(630)], range=[-0.222, 1.164], anchor="y7", showticklabels=False),
    yaxis7=hidden_axis(domain=marg_y, range=[0, kde_max[1][0] * 1.03], anchor="x7"),
    xaxis8=hidden_axis(domain=[px(646), px(681)], range=[0, kde_max[1][1] * 1.03], anchor="y8"),
    yaxis8=open_axis(domain=main_y, range=[-0.247, 9.36], anchor="x8", showticklabels=False),
)


# ---------------- titles & labels ----------------
def label(text, x, y, font, angle=0):
    annotations.append(dict(text=text, x=px(x), y=py(y), xref="paper", yref="paper", showarrow=False,
                            xanchor="center", yanchor="middle", textangle=angle, font=font))


TITLEF = dict(family="Liberation Serif", size=17.5, color="#000000")
label(PANEL_TITLES[0], 163, 8, TITLEF)
label(PANEL_TITLES[1], 521, 8, TITLEF)
label("Combined score", 8, 85, LABF, -90)
label("Combined score", 363, 85, LABF, -90)
label("Episode", 185, 171, LABF)
label("Episode", 550, 171, LABF)
label("SA Score", 11, 375, LABF, -90)
label("SA Score", 367, 375, LABF, -90)
label("QED Score", 155, 519, LABF)
label("QED Score", 512, 519, LABF)

LEGF = dict(family="DejaVu Sans", size=11, color=TXT)
fig.update_layout(
    width=W, height=H, margin=dict(l=0, r=0, t=0, b=0),
    paper_bgcolor="white", plot_bgcolor="white",
    shapes=shapes, annotations=annotations,
    legend=dict(x=px(42), y=py(264), xanchor="left", yanchor="top", bgcolor="rgba(255,255,255,0.85)",
                bordercolor="#d0d0d0", borderwidth=1, font=LEGF, tracegroupgap=0, traceorder="normal"),
    legend2=dict(x=px(398), y=py(433), xanchor="left", yanchor="top", bgcolor="rgba(255,255,255,0.85)",
                 bordercolor="#d0d0d0", borderwidth=1, font=LEGF, tracegroupgap=0, traceorder="normal"),
    showlegend=True,
)

fig.write_html("out.html")
